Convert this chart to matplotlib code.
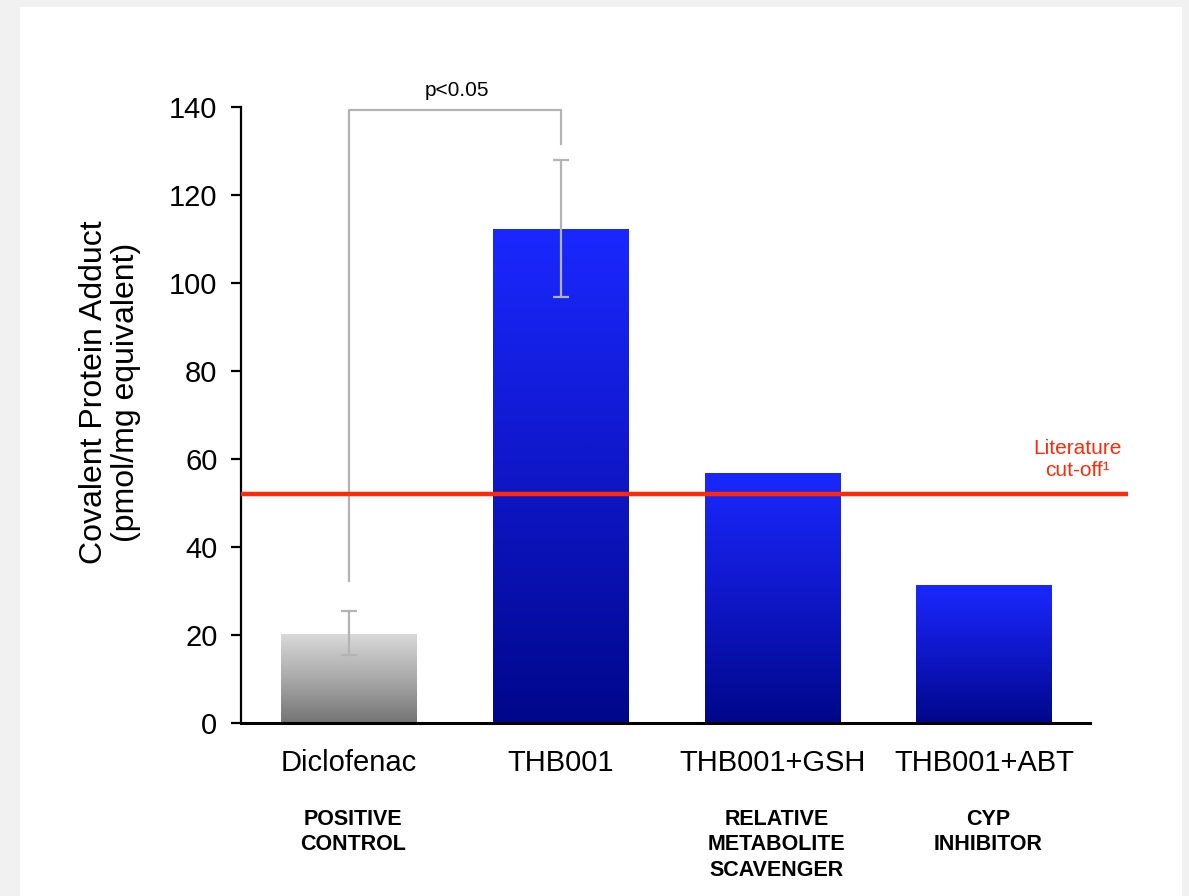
import matplotlib.pyplot as plt
import numpy as np
from matplotlib.colors import LinearSegmentedColormap
from matplotlib.patches import Rectangle

plt.rcParams['font.family'] = ['Liberation Sans', 'DejaVu Sans']

# data
compounds = ['Diclofenac', 'THB001', 'THB001+GSH', 'THB001+ABT']
groups = ['POSITIVE\nCONTROL', '', 'RELATIVE\nMETABOLITE\nSCAVENGER', 'CYP\nINHIBITOR']
adduct = [20.2, 112.3, 56.9, 31.4]
err_low = [15.5, 96.8, None, None]
err_high = [25.4, 128.0, None, None]
cutoff = 52.0
bracket_left = 32.3
bracket_right = 131.7
bracket_top = 139.3

fig = plt.figure(figsize=(11.89, 8.96), dpi=100)
fig.patch.set_facecolor('#f1f1f1')
# white slide panel
fig.patches.append(Rectangle((20 / 1189, 0), 1162 / 1189, 889 / 896,
                             transform=fig.transFigure, facecolor='white',
                             edgecolor='none', zorder=-5))

ax = fig.add_axes([241 / 1189, 1 - 723 / 896, (1090 - 241) / 1189, (723 - 107) / 896])
ax.set_facecolor('none')

x = np.arange(len(compounds))
width = 0.64

blue = LinearSegmentedColormap.from_list('blue', ['#00078a', '#0f17c8', '#1a28ff'])
grey = LinearSegmentedColormap.from_list('grey', ['#747474', '#a9a9a9', '#d9d9d9'])

bars = ax.bar(x, adduct, width=width, color='none', edgecolor='none', zorder=2)
grad = np.linspace(0, 1, 256).reshape(-1, 1)
for i, b in enumerate(bars):
    cmap = grey if i == 0 else blue
    im = ax.imshow(grad, cmap=cmap, origin='lower', aspect='auto',
                   extent=[b.get_x(), b.get_x() + b.get_width(), 0, b.get_height()],
                   zorder=2)
    im.set_clip_path(b)

# error bars
for i in range(len(compounds)):
    if err_low[i] is None:
        continue
    ax.errorbar(x[i], adduct[i],
                yerr=[[adduct[i] - err_low[i]], [err_high[i] - adduct[i]]],
                fmt='none', ecolor='#b3b3b3', elinewidth=1.6, capsize=6,
                capthick=1.6, zorder=3)

# cut-off line
ax.plot([-0.51, 3.68], [cutoff, cutoff], color='#ff2a0a', lw=3.2,
        clip_on=False, zorder=4, solid_capstyle='butt')
ax.text(3.44, cutoff + 3.2, 'Literature\ncut-off\u00b9', color='#ff2a0a',
        fontsize=15, ha='center', va='bottom', linespacing=1.2)

# significance bracket
ax.plot([0, 0, 1, 1], [bracket_left, bracket_top, bracket_top, bracket_right],
        color='#b3b3b3', lw=1.6, clip_on=False, zorder=3)
ax.text(0.51, bracket_top + 2.2, 'p<0.05', fontsize=15, ha='center', va='bottom')

ax.set_xlim(-0.51, 3.5)
ax.set_ylim(0, 140)
ax.set_yticks(np.arange(0, 141, 20))
ax.set_xticks(x)
ax.set_xticklabels(compounds, fontsize=21)
ax.tick_params(axis='x', length=0, pad=19)
ax.tick_params(axis='y', labelsize=21, length=7, width=1.6, direction='out', pad=10)
for s in ['top', 'right']:
    ax.spines[s].set_visible(False)
ax.spines['left'].set_linewidth(1.6)
ax.spines['bottom'].set_linewidth(2.2)

ax.set_ylabel('Covalent Protein Adduct\n(pmol/mg equivalent)', fontsize=23,
              linespacing=1.08, labelpad=20)
ax.yaxis.label.set_y(0.537)

# category descriptions below the compound names
for i, g in enumerate(groups):
    if g:
        ax.text(x[i] + 0.02, -19.5, g, fontsize=15.5, fontweight='bold', ha='center',
                va='top', linespacing=1.28, transform=ax.transData)

fig.savefig('out.png', dpi=100, facecolor=fig.get_facecolor())
